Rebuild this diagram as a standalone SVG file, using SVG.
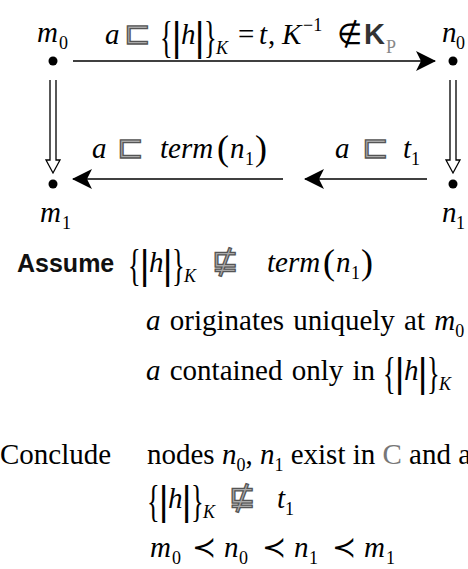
<svg xmlns="http://www.w3.org/2000/svg" width="468" height="569" viewBox="0 0 468 569">
<defs>
<style>
text{font-family:"Liberation Serif","Times New Roman",serif;font-size:29px;fill:#000}
.it{font-style:italic}
.sub{font-size:18px}
.br{font-size:44px}
.bar{font-size:42px;font-weight:bold}
.par{font-size:36px}
.sq{font-family:"DejaVu Sans",sans-serif;font-size:32px;fill:#aaa;stroke:#555;stroke-width:1.3}
.hd{font-family:"Liberation Sans",Arial,sans-serif;font-size:25px;font-weight:bold;fill:#111}
.edge{stroke:#000;stroke-width:1.6;fill:none}
.dbl{stroke:#000;stroke-width:1.3;fill:none}
.dot{fill:#000}
</style>
<marker id="ah" markerWidth="20" markerHeight="20" refX="19" refY="10" orient="auto" markerUnits="userSpaceOnUse">
<path d="M0,0 L20,10 L0,20 L5,10 z" fill="#000"/>
</marker>
</defs>
<rect width="468" height="569" fill="#fff"/>

<g id="connectors">
<line class="edge" x1="73" y1="61" x2="435" y2="61" marker-end="url(#ah)"/>
<line class="edge" x1="283" y1="179" x2="73" y2="179" marker-end="url(#ah)"/>
<line class="edge" x1="427" y1="179" x2="305" y2="179" marker-end="url(#ah)"/>
<path class="dbl" d="M50,80 L50,160 L46,160 L53,173 L60,160 L56,160 L56,80"/>
<path class="dbl" d="M450,80 L450,160 L446,160 L453,173 L460,160 L456,160 L456,80"/>
</g>

<g id="node-m0">
<circle class="dot" cx="53" cy="61" r="4.5"/>
<text class="it" x="37" y="42">m</text><text class="sub" x="59" y="49">0</text>
</g>
<g id="node-n0">
<circle class="dot" cx="453" cy="61" r="4.5"/>
<text class="it" x="442" y="42">n</text><text class="sub" x="456" y="49">0</text>
</g>
<g id="node-m1">
<circle class="dot" cx="53" cy="184" r="4.5"/>
<text class="it" x="40" y="222">m</text><text class="sub" x="62" y="229">1</text>
</g>
<g id="node-n1">
<circle class="dot" cx="453" cy="184" r="4.5"/>
<text class="it" x="442" y="222">n</text><text class="sub" x="456" y="229">1</text>
</g>

<g id="label-top">
<text class="it" x="105" y="44">a</text>
<text class="sq" x="124" y="44">⊏</text>
<text class="br" transform="translate(160,52) scale(0.6,1)">{</text><text class="bar" x="172" y="50">|</text><text class="it" x="181" y="44">h</text><text class="bar" x="195" y="50">|</text><text class="br" transform="translate(204,52) scale(0.6,1)">}</text><text class="sub it" x="216" y="54">K</text>
<text x="238" y="44">=</text><text class="it" x="259" y="44">t</text><text x="268" y="44">,</text><text class="it" x="282" y="44">K</text><text class="sub" x="303" y="31">−1</text>
<text x="337" y="44">∉</text>
<text x="364" y="44" style="font-family:'Liberation Sans',sans-serif;font-weight:bold;fill:#333">K</text><text class="sub" x="386" y="53" style="fill:#888">P</text>
</g>

<g id="label-bottom-left">
<text class="it" x="92" y="158">a</text>
<text class="sq" x="117" y="158">⊏</text>
<text class="it" x="160" y="158">term</text>
<text class="par" x="217" y="160">(</text><text class="it" x="230" y="158">n</text><text class="sub" x="245" y="165">1</text><text class="par" x="255" y="160">)</text>
</g>
<g id="label-bottom-right">
<text class="it" x="335" y="158">a</text>
<text class="sq" x="362" y="158">⊏</text>
<text class="it" x="403" y="158">t</text><text class="sub" x="411" y="165">1</text>
</g>

<g id="assume">
<text class="hd" x="17" y="272">Assume</text>
<text class="br" transform="translate(128,280) scale(0.6,1)">{</text><text class="bar" x="140" y="278">|</text><text class="it" x="149" y="272">h</text><text class="bar" x="163" y="278">|</text><text class="br" transform="translate(172,280) scale(0.6,1)">}</text><text class="sub it" x="184" y="282">K</text>
<text class="sq" x="212" y="272">⋢</text>
<text class="it" x="267" y="272">term</text>
<text class="par" x="323" y="274">(</text><text class="it" x="336" y="272">n</text><text class="sub" x="351" y="279">1</text><text class="par" x="361" y="274">)</text>
<text x="146" y="330" word-spacing="2"><tspan class="it">a</tspan> originates uniquely at <tspan class="it">m</tspan><tspan class="sub" dy="7">0</tspan></text>
<text x="146" y="380" word-spacing="2"><tspan class="it">a</tspan>  contained only in</text>
<text class="br" transform="translate(383,388) scale(0.6,1)">{</text><text class="bar" x="395" y="386">|</text><text class="it" x="404" y="380">h</text><text class="bar" x="418" y="386">|</text><text class="br" transform="translate(427,388) scale(0.6,1)">}</text><text class="sub it" x="439" y="390">K</text>
</g>

<g id="conclude">
<text x="0" y="464">Conclude</text>
<text x="147" y="464">nodes <tspan class="it">n</tspan><tspan class="sub" dy="7">0</tspan><tspan dy="-7">, </tspan><tspan class="it">n</tspan><tspan class="sub" dy="7">1</tspan><tspan dy="-7"> exist in </tspan><tspan style="fill:#777">C</tspan> and a</text>
<text class="br" transform="translate(147,516) scale(0.6,1)">{</text><text class="bar" x="159" y="514">|</text><text class="it" x="168" y="508">h</text><text class="bar" x="182" y="514">|</text><text class="br" transform="translate(191,516) scale(0.6,1)">}</text><text class="sub it" x="203" y="518">K</text>
<text class="sq" x="229" y="508">⋢</text>
<text class="it" x="277" y="508">t</text><text class="sub" x="285" y="515">1</text>
<text class="it" x="150" y="557">m</text><text class="sub" x="172" y="564">0</text>
<text x="192" y="557">≺</text>
<text class="it" x="224" y="557">n</text><text class="sub" x="239" y="564">0</text>
<text x="262" y="557">≺</text>
<text class="it" x="294" y="557">n</text><text class="sub" x="309" y="564">1</text>
<text x="332" y="557">≺</text>
<text class="it" x="364" y="557">m</text><text class="sub" x="386" y="564">1</text>
</g>
</svg>
